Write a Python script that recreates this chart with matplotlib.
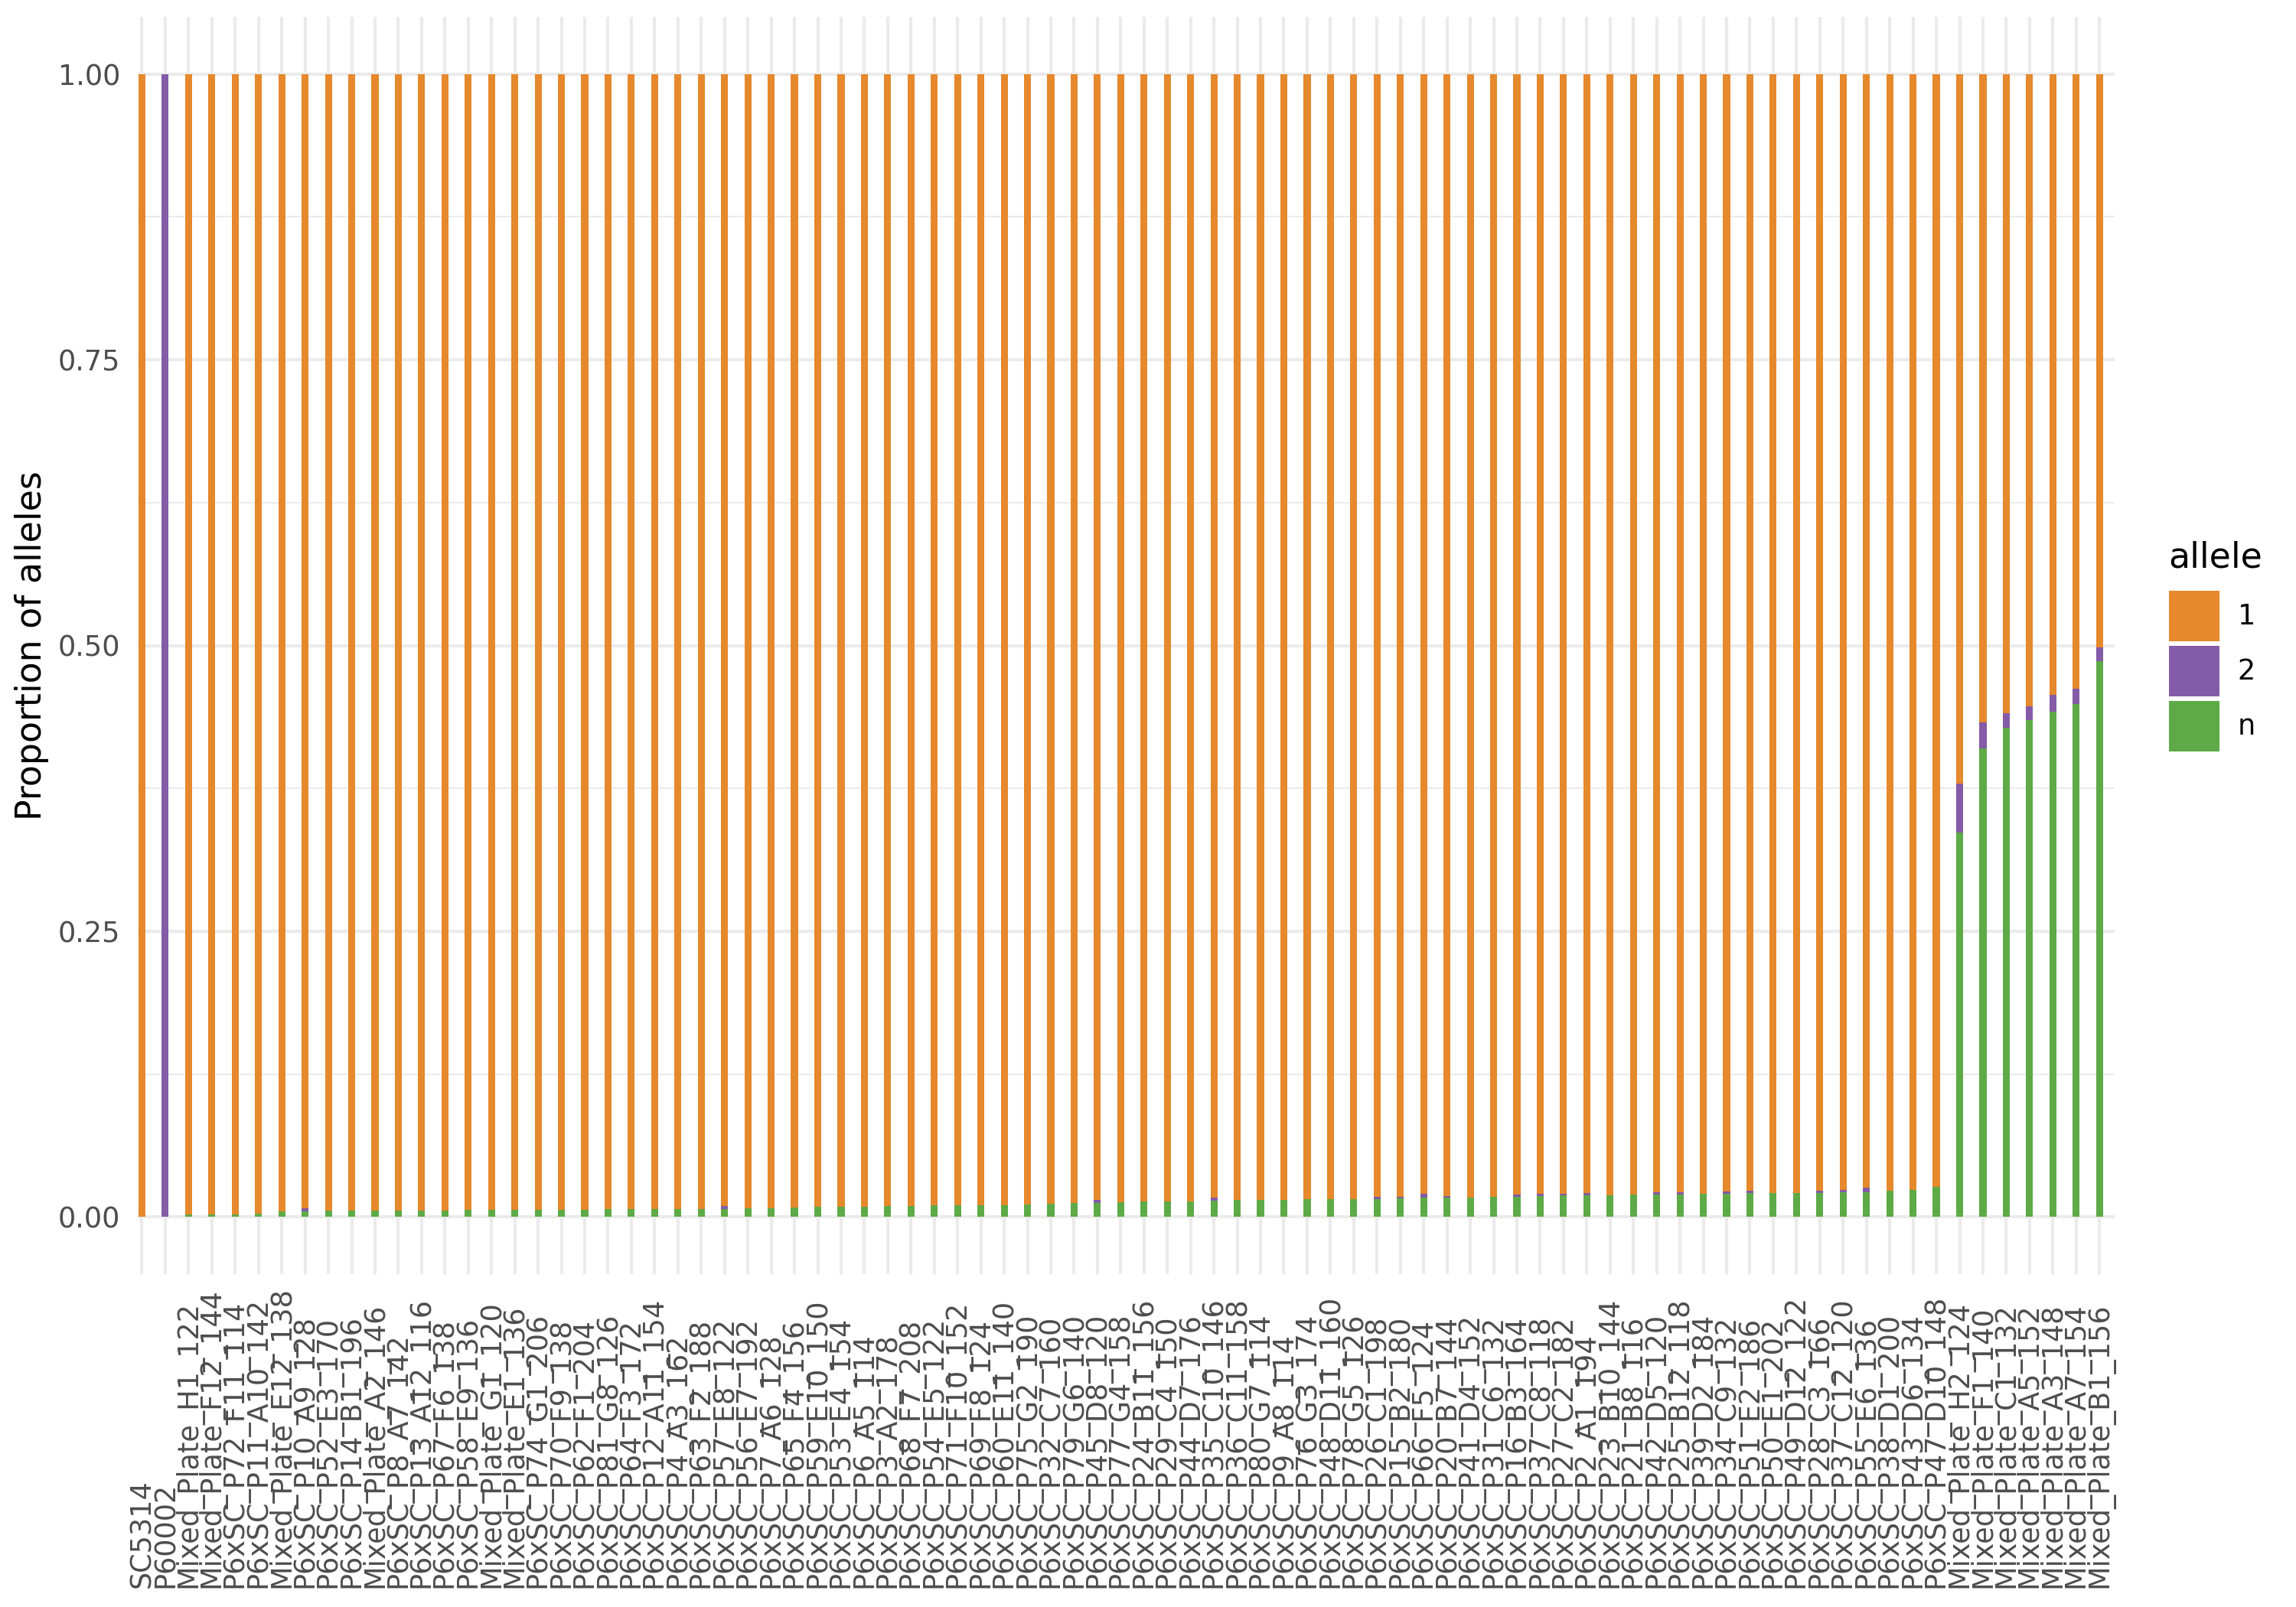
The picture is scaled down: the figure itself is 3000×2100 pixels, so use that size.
import matplotlib
matplotlib.use("Agg")
import matplotlib.pyplot as plt
import numpy as np
from matplotlib.patches import Patch
from matplotlib.ticker import FixedLocator
from matplotlib.transforms import blended_transform_factory

samples = [
    "SC5314", "P60002", "Mixed_Plate_H1_122", "Mixed_Plate_F12_144",
    "P6xSC_P72_F11_114", "P6xSC_P11_A10_142", "Mixed_Plate_E12_138",
    "P6xSC_P10_A9_128", "P6xSC_P52_E3_170", "P6xSC_P14_B1_196",
    "Mixed_Plate_A2_146", "P6xSC_P8_A7_142", "P6xSC_P13_A12_116",
    "P6xSC_P67_F6_138", "P6xSC_P58_E9_136", "Mixed_Plate_G1_120",
    "Mixed_Plate_E1_136", "P6xSC_P74_G1_206", "P6xSC_P70_F9_138",
    "P6xSC_P62_F1_204", "P6xSC_P81_G8_126", "P6xSC_P64_F3_172",
    "P6xSC_P12_A11_154", "P6xSC_P4_A3_162", "P6xSC_P63_F2_188",
    "P6xSC_P57_E8_122", "P6xSC_P56_E7_192", "P6xSC_P7_A6_128",
    "P6xSC_P65_F4_156", "P6xSC_P59_E10_150", "P6xSC_P53_E4_154",
    "P6xSC_P6_A5_114", "P6xSC_P3_A2_178", "P6xSC_P68_F7_208",
    "P6xSC_P54_E5_122", "P6xSC_P71_F10_152", "P6xSC_P69_F8_124",
    "P6xSC_P60_E11_140", "P6xSC_P75_G2_190", "P6xSC_P32_C7_160",
    "P6xSC_P79_G6_140", "P6xSC_P45_D8_120", "P6xSC_P77_G4_158",
    "P6xSC_P24_B11_156", "P6xSC_P29_C4_150", "P6xSC_P44_D7_176",
    "P6xSC_P35_C10_146", "P6xSC_P36_C11_158", "P6xSC_P80_G7_114",
    "P6xSC_P9_A8_114", "P6xSC_P76_G3_174", "P6xSC_P48_D11_160",
    "P6xSC_P78_G5_126", "P6xSC_P26_C1_198", "P6xSC_P15_B2_180",
    "P6xSC_P66_F5_124", "P6xSC_P20_B7_144", "P6xSC_P41_D4_152",
    "P6xSC_P31_C6_132", "P6xSC_P16_B3_164", "P6xSC_P37_C8_118",
    "P6xSC_P27_C2_182", "P6xSC_P2_A1_194", "P6xSC_P23_B10_144",
    "P6xSC_P21_B8_116", "P6xSC_P42_D5_120", "P6xSC_P25_B12_118",
    "P6xSC_P39_D2_184", "P6xSC_P34_C9_132", "P6xSC_P51_E2_186",
    "P6xSC_P50_E1_202", "P6xSC_P49_D12_122", "P6xSC_P28_C3_166",
    "P6xSC_P37_C12_120", "P6xSC_P55_E6_136", "P6xSC_P38_D1_200",
    "P6xSC_P43_D6_134", "P6xSC_P47_D10_148", "Mixed_Plate_H2_124",
    "Mixed_Plate_F1_140", "Mixed_Plate_C1_132", "Mixed_Plate_A5_152",
    "Mixed_Plate_A3_148", "Mixed_Plate_A7_154", "Mixed_Plate_B1_156",
]

# proportion of allele "n" (bottom of stack)
allele_n = [
    0.0, 0.0, 0.0020, 0.0020, 0.0020, 0.0029, 0.0047, 0.0047, 0.0056, 0.0056,
    0.0056, 0.0056, 0.0056, 0.0056, 0.0060, 0.0060, 0.0060, 0.0060, 0.0060, 0.0060,
    0.0067, 0.0067, 0.0067, 0.0067, 0.0067, 0.0071, 0.0074, 0.0074, 0.0080, 0.0087,
    0.0087, 0.0087, 0.0094, 0.0094, 0.0101, 0.0101, 0.0101, 0.0101, 0.0107, 0.0114,
    0.0121, 0.0121, 0.0127, 0.0134, 0.0134, 0.0134, 0.0141, 0.0147, 0.0147, 0.0147,
    0.0154, 0.0154, 0.0154, 0.0154, 0.0161, 0.0168, 0.0168, 0.0168, 0.0174, 0.0174,
    0.0181, 0.0188, 0.0188, 0.0188, 0.0194, 0.0194, 0.0194, 0.0201, 0.0201, 0.0208,
    0.0208, 0.0208, 0.0208, 0.0214, 0.0214, 0.0228, 0.0235, 0.0261, 0.336, 0.410,
    0.428, 0.435, 0.442, 0.449, 0.486,
]

# proportion of allele "2" (middle of stack)
allele_2 = [
    0.0, 1.0, 0.0, 0.0, 0.0, 0.0, 0.0, 0.0027, 0.0, 0.0,
    0.0, 0.0, 0.0, 0.0, 0.0, 0.0, 0.0, 0.0, 0.0, 0.0,
    0.0, 0.0, 0.0, 0.0, 0.0, 0.0022, 0.0, 0.0, 0.0, 0.0,
    0.0, 0.0, 0.0, 0.0, 0.0, 0.0, 0.0, 0.0, 0.0, 0.0,
    0.0, 0.0027, 0.0, 0.0, 0.0, 0.0, 0.0027, 0.0, 0.0, 0.0,
    0.0, 0.0, 0.0, 0.0020, 0.0013, 0.0034, 0.0013, 0.0, 0.0, 0.0020,
    0.0020, 0.0013, 0.0020, 0.0, 0.0, 0.0020, 0.0020, 0.0, 0.0020, 0.0020,
    0.0, 0.0, 0.0020, 0.0020, 0.0040, 0.0, 0.0, 0.0, 0.043, 0.023,
    0.013, 0.012, 0.015, 0.013, 0.012,
]

# proportion of allele "1" (top of stack)
allele_1 = [
    1.0, 0.0, 0.9980, 0.9980, 0.9980, 0.9971, 0.9953, 0.9926, 0.9944, 0.9944,
    0.9944, 0.9944, 0.9944, 0.9944, 0.9940, 0.9940, 0.9940, 0.9940, 0.9940, 0.9940,
    0.9933, 0.9933, 0.9933, 0.9933, 0.9933, 0.9907, 0.9926, 0.9926, 0.9920, 0.9913,
    0.9913, 0.9913, 0.9906, 0.9906, 0.9899, 0.9899, 0.9899, 0.9899, 0.9893, 0.9886,
    0.9879, 0.9852, 0.9873, 0.9866, 0.9866, 0.9866, 0.9832, 0.9853, 0.9853, 0.9853,
    0.9846, 0.9846, 0.9846, 0.9826, 0.9826, 0.9798, 0.9819, 0.9832, 0.9826, 0.9806,
    0.9799, 0.9799, 0.9792, 0.9812, 0.9806, 0.9786, 0.9786, 0.9799, 0.9779, 0.9772,
    0.9792, 0.9792, 0.9772, 0.9766, 0.9746, 0.9772, 0.9765, 0.9739, 0.621, 0.567,
    0.559, 0.553, 0.543, 0.538, 0.502,
]

allele_levels = ["1", "2", "n"]
allele_colors = ["#E6882C", "#845BA7", "#5DAA47"]
y_ticks = [0.0, 0.25, 0.5, 0.75, 1.0]
y_tick_labels = ["0.00", "0.25", "0.50", "0.75", "1.00"]
y_minor = [0.125, 0.375, 0.625, 0.875]

W, H = 3000, 2100
fig = plt.figure(figsize=(10, 7), dpi=300)
ax_left, ax_right, ax_top, ax_bottom = 180, 2763, 22, 1665
ax = fig.add_axes([ax_left / W, 1 - ax_bottom / H,
                   (ax_right - ax_left) / W, (ax_bottom - ax_top) / H])

x = np.arange(len(samples))
n_arr = np.array(allele_n)
two_arr = np.array(allele_2)
one_arr = np.array(allele_1)
bw = 0.3
ax.bar(x, n_arr, width=bw, color=allele_colors[2], zorder=3, linewidth=0)
ax.bar(x, two_arr, width=bw, bottom=n_arr, color=allele_colors[1], zorder=3, linewidth=0)
ax.bar(x, one_arr, width=bw, bottom=n_arr + two_arr, color=allele_colors[0], zorder=3, linewidth=0)

ax.set_xlim(-0.18, len(samples) - 1 + 0.65)
ax.set_ylim(-0.05, 1.05)
ax.set_xticks(x)
ax.set_xticklabels([""] * len(samples))
ax.set_yticks(y_ticks)
ax.set_yticklabels(y_tick_labels, fontsize=8.8, color="#4D4D4D")
ax.yaxis.set_minor_locator(FixedLocator(y_minor))
ax.tick_params(axis="both", which="both", length=0)
ax.tick_params(axis="y", pad=5.5)

ax.set_axisbelow(True)
ax.grid(axis="x", which="major", color="#EBEBEB", linewidth=1.0)
ax.grid(axis="y", which="major", color="#EBEBEB", linewidth=1.0)
ax.grid(axis="y", which="minor", color="#EBEBEB", linewidth=0.5)
for s in ax.spines.values():
    s.set_visible(False)

# rotated x labels, bottom aligned
trans = blended_transform_factory(ax.transData, fig.transFigure)
for xi, lab in zip(x, samples):
    ax.text(xi, 1 - 2075 / H, lab, transform=trans, rotation=90,
            ha="center", va="bottom", fontsize=8.8, color="#4D4D4D")

ax.set_ylabel("Proportion of alleles", fontsize=11, color="black",
              ha="center", va="center")
ax.yaxis.set_label_coords((42 - ax_left) / (ax_right - ax_left), 0.5)

# legend
fig.text(2833 / W, 1 - 742 / H, "allele", fontsize=11, ha="left",
         va="baseline", color="black")
handles = [Patch(facecolor=c, edgecolor="none") for c in allele_colors]
fig.legend(handles, allele_levels, loc="upper left",
           bbox_to_anchor=(2834 / W, 1 - 772 / H), frameon=False,
           fontsize=8.8, handlelength=1.8, handleheight=2.39,
           handletextpad=0.65, labelspacing=0.16, borderpad=0,
           borderaxespad=0)

fig.savefig("out.png", dpi=300)
